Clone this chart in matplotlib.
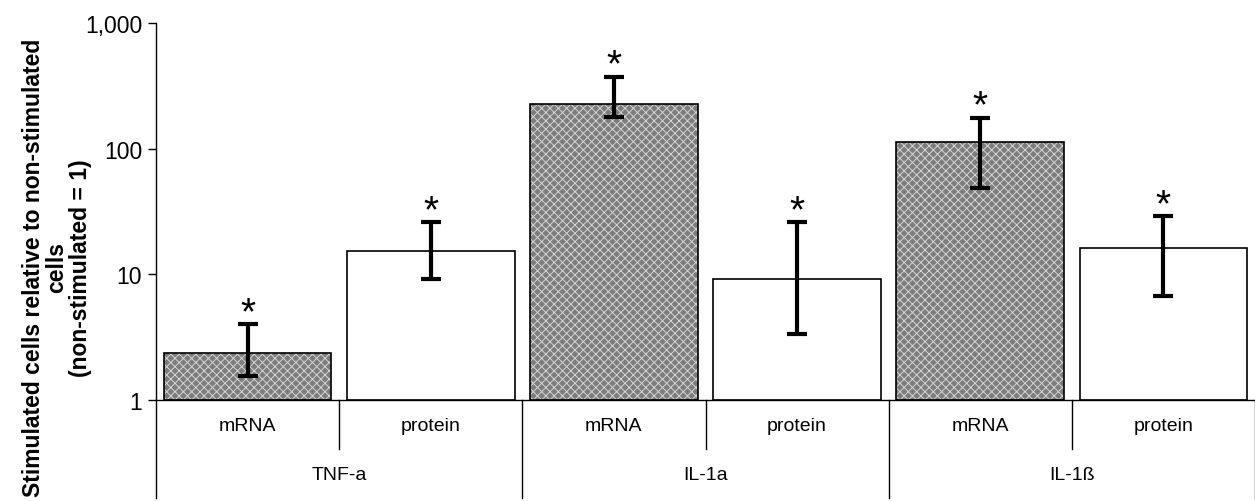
import matplotlib
matplotlib.use('Agg')
import matplotlib.pyplot as plt
import numpy as np

plt.rcParams['font.family'] = ['Liberation Sans', 'DejaVu Sans']
plt.rcParams['hatch.linewidth'] = 0.7

# data
groups = ['TNF-a', 'IL-1a', 'IL-1ß']
kinds = ['mRNA', 'protein', 'mRNA', 'protein', 'mRNA', 'protein']
values = [2.36, 15.2, 225, 9.1, 114, 16.3]
err_upper = [4.03, 26.1, 375, 26.1, 176, 29.1]
err_lower = [1.55, 9.1, 180, 3.36, 48.6, 6.7]
shaded = [True, False, True, False, True, False]

fig = plt.figure(figsize=(12.55, 5.02), dpi=100)
ax = fig.add_axes([156 / 1255, 1 - 401 / 502, 1099 / 1255, 377 / 502])

x = np.arange(len(values)) + 0.5
width = 0.915

# texture first, then the black outline on top
for xi, v, s in zip(x, values, shaded):
    if s:
        ax.bar(xi, v - 1, bottom=1, width=width, color='#7c7c7c', hatch='xxxx',
               edgecolor='#d4d4d4', linewidth=0, zorder=2)
ax.bar(x, np.array(values) - 1, bottom=1, width=width, facecolor='none',
       edgecolor='black', linewidth=1.2, zorder=3)

yerr = [np.array(values) - np.array(err_lower), np.array(err_upper) - np.array(values)]
ax.errorbar(x, values, yerr=yerr, fmt='none', ecolor='black', elinewidth=3,
            capsize=7, capthick=3, zorder=4)
for xi, u in zip(x, err_upper):
    ax.annotate('*', xy=(xi, u), xytext=(0, -5), textcoords='offset points',
                ha='center', va='bottom', fontsize=28)

ax.set_yscale('log')
ax.set_ylim(1, 1000)
ax.set_xlim(0, 6)
ax.set_yticks([1, 10, 100, 1000])
ax.set_yticklabels(['1', '10', '100', '1,000'])
ax.minorticks_off()
ax.tick_params(axis='y', which='major', direction='out', length=6, width=1,
               labelsize=16.5, pad=4)
ax.set_xticks([])
for side in ['top', 'right']:
    ax.spines[side].set_visible(False)
ax.spines['left'].set_linewidth(1)
ax.spines['bottom'].set_linewidth(1)

# category table under the axis
trans = ax.get_xaxis_transform()
ax.plot([0, 0], [0, -0.26], color='black', lw=1, transform=trans, clip_on=False)
for b in range(1, 7):
    low = -0.26 if b % 2 == 0 else -0.13
    ax.plot([b, b], [0, low], color='black', lw=1, transform=trans, clip_on=False)
for xi, k in zip(x, kinds):
    ax.text(xi, -0.067, k, transform=trans, ha='center', va='center', fontsize=14)
for gi, g in enumerate(groups):
    ax.text(2 * gi + 1, -0.198, g, transform=trans, ha='center', va='center', fontsize=14)

fig.text(57 / 1255, 1 - 268 / 502,
         'Stimulated cells relative to non-stimulated\ncells\n(non-stimulated = 1)',
         rotation=90, ha='center', va='center', multialignment='center',
         fontsize=16.5, fontweight='bold', linespacing=1.05)

fig.savefig('out.png', dpi=100)
